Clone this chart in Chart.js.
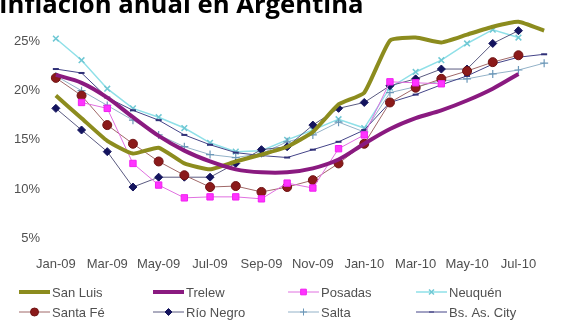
<!DOCTYPE html>
<html>
<head>
<meta charset="utf-8">
<script src="https://cdn.jsdelivr.net/npm/chart.js@4.4.0/dist/chart.umd.min.js"></script>
<style>
    html, body { margin: 0; padding: 0; background: #fff; overflow: hidden; }
    #wrap { position: relative; width: 563px; height: 325px; }
    #chart { position: absolute; left: 0; top: 0; }
    #title { position: absolute; left: -1px; top: -14px; font: bold 25.7px 'Open Sans', sans-serif; color: #000; white-space: nowrap; }
</style>
</head>
<body>
<div id="wrap">
    <canvas id="chart" width="563" height="325"></canvas>
    <div id="title">Inflación anual en Argentina</div>
</div>
<script>
// Months Jan-09 .. Aug-10
const months = ['Jan-09', 'Feb-09', 'Mar-09', 'Apr-09', 'May-09', 'Jun-09', 'Jul-09', 'Aug-09', 'Sep-09', 'Oct-09',
    'Nov-09', 'Dec-09', 'Jan-10', 'Feb-10', 'Mar-10', 'Apr-10', 'May-10', 'Jun-10', 'Jul-10', 'Aug-10'];

const yTicks = [5, 10, 15, 20, 25];

// Annual inflation (%)
const sanLuis  = [19.5, 17.2, 14.9, 13.6, 14.2, 12.6, 12.0, 12.8, 13.5, 14.3, 15.8, 18.6, 19.8, 25.1, 25.4, 24.9, 25.7, 26.5, 27.0, 26.1];
const trelew   = [21.6, 20.8, 19.3, 17.3, 15.4, 13.9, 12.8, 12.0, 11.7, 11.7, 12.1, 13.0, 14.6, 16.1, 17.2, 18.0, 19.0, 20.2, 21.7, null];
const posadas  = [null, 18.8, 18.2, 12.6, 10.4, 9.1, 9.2, 9.2, 9.0, 10.6, 10.1, 14.1, 15.5, 20.9, 20.8, 20.7, null, null, null, null];
const neuquen  = [25.3, 23.1, 20.2, 18.2, 17.3, 16.2, 14.7, 13.8, 13.9, 15.0, 16.0, 17.1, 16.2, 20.3, 21.9, 23.1, 24.8, 26.2, 25.4, null];
const santaFe  = [21.3, 19.5, 16.5, 14.6, 12.8, 11.4, 10.2, 10.3, 9.7, 10.2, 10.9, 12.6, 14.6, 18.8, 20.3, 21.2, 22.0, 22.9, 23.6, null];
const rioNegro = [18.2, 16.0, 13.8, 10.2, 11.2, 11.2, 11.2, 12.6, 14.0, 14.3, 16.5, 18.2, 18.8, 20.5, 21.2, 22.2, 22.2, 24.8, 26.1, null];
const salta    = [21.5, 20.0, 18.5, 17.0, 15.5, 14.3, 13.5, 13.2, 13.6, 14.8, 15.5, 16.8, 15.8, 19.8, 20.4, 21.0, 21.2, 21.7, 22.1, 22.8];
const bsAs     = [22.2, 21.8, 19.3, 18.0, 17.0, 15.5, 14.5, 13.7, 13.4, 13.2, 14.0, 14.8, 16.0, 18.8, 19.6, 20.6, 21.5, 22.7, 23.4, 23.7];

const FONT = "'Liberation Sans', Arial, sans-serif";
const TEXT = '#505050';

const datasets = [
    { label: 'San Luis', data: sanLuis, borderColor: '#8c8c1e', borderWidth: 4, pointRadius: 0, tension: 0.15, order: 2 },
    { label: 'Trelew', data: trelew, borderColor: '#8a1a80', borderWidth: 4, pointRadius: 0, tension: 0.35, order: 1 },
    { label: 'Posadas', data: posadas, borderColor: '#e070e0', borderWidth: 1, pointStyle: 'rect', pointRadius: 4.5,
      pointBackgroundColor: '#ff33ff', pointBorderColor: '#f020f0', order: 3 },
    { label: 'Neuquén', data: neuquen, borderColor: '#8fe0e8', borderWidth: 1.5, pointStyle: 'crossRot', pointRadius: 4,
      pointBorderColor: '#70c8d4', pointBorderWidth: 1.5, order: 8 },
    { label: 'Santa Fé', data: santaFe, borderColor: '#a06868', borderWidth: 1, pointStyle: 'circle', pointRadius: 4.5,
      pointBackgroundColor: '#8b1a1a', pointBorderColor: '#701414', order: 4 },
    { label: 'Río Negro', data: rioNegro, borderColor: '#5a5a80', borderWidth: 1, pointStyle: 'rectRot', pointRadius: 4,
      pointBackgroundColor: '#14145e', pointBorderColor: '#14145e', order: 5 },
    { label: 'Salta', data: salta, borderColor: '#93b2c8', borderWidth: 1, pointStyle: 'cross', pointRadius: 4,
      pointBorderColor: '#6b97b8', pointBorderWidth: 1.2, order: 7 },
    { label: 'Bs. As. City', data: bsAs, borderColor: '#444488', borderWidth: 1, pointStyle: 'line', pointRadius: 3,
      pointBorderColor: '#303078', pointBorderWidth: 2, order: 6 }
];

// Legend in two rows of four, like the original
const legendPlugin = {
    id: 'gridLegend',
    afterDraw(chart) {
        const ctx = chart.ctx;
        const colX = [19, 153, 288, 416];
        const rowY = [292, 312];
        ctx.save();
        ctx.font = '13px ' + FONT;
        ctx.textBaseline = 'middle';
        chart.data.datasets.forEach((ds, i) => {
            const x = colX[i % 4];
            const y = rowY[Math.floor(i / 4)];
            ctx.strokeStyle = ds.borderColor;
            ctx.lineWidth = ds.borderWidth;
            ctx.beginPath();
            ctx.moveTo(x, y);
            ctx.lineTo(x + 31, y);
            ctx.stroke();
            if (ds.pointRadius > 0) {
                ctx.fillStyle = ds.pointBackgroundColor || ds.pointBorderColor;
                ctx.strokeStyle = ds.pointBorderColor;
                Chart.helpers.drawPoint(ctx, {
                    pointStyle: ds.pointStyle, radius: ds.pointRadius - 0.5,
                    borderWidth: ds.pointBorderWidth || 1, rotation: 0
                }, x + 15.5, y);
            }
            ctx.fillStyle = TEXT;
            ctx.fillText(ds.label, x + 33, y + 1);
        });
        ctx.restore();
    }
};

new Chart(document.getElementById('chart').getContext('2d'), {
    type: 'line',
    data: { labels: months, datasets },
    plugins: [legendPlugin],
    options: {
        responsive: false,
        animation: false,
        spanGaps: false,
        layout: { padding: { top: 12, right: 1, bottom: 45, left: 0 } },
        plugins: { legend: { display: false }, tooltip: { enabled: false } },
        scales: {
            x: {
                offset: true,
                grid: { display: false, drawTicks: false },
                border: { display: false },
                ticks: {
                    autoSkip: false, maxRotation: 0, padding: 9,
                    color: TEXT, font: { family: FONT, size: 13 },
                    callback: (v, i) => (i % 2 === 0 ? months[i] : '')
                },
                afterFit: s => { s.height = 32; }
            },
            y: {
                min: 4, max: 28,
                grid: { display: false, drawTicks: false },
                border: { display: false },
                afterBuildTicks: axis => { axis.ticks = yTicks.map(v => ({ value: v })); },
                ticks: {
                    padding: 3, color: TEXT, font: { family: FONT, size: 13 },
                    callback: v => v + '%'
                },
                afterFit: s => { s.width = 43; }
            }
        }
    }
});
</script>
</body>
</html>
